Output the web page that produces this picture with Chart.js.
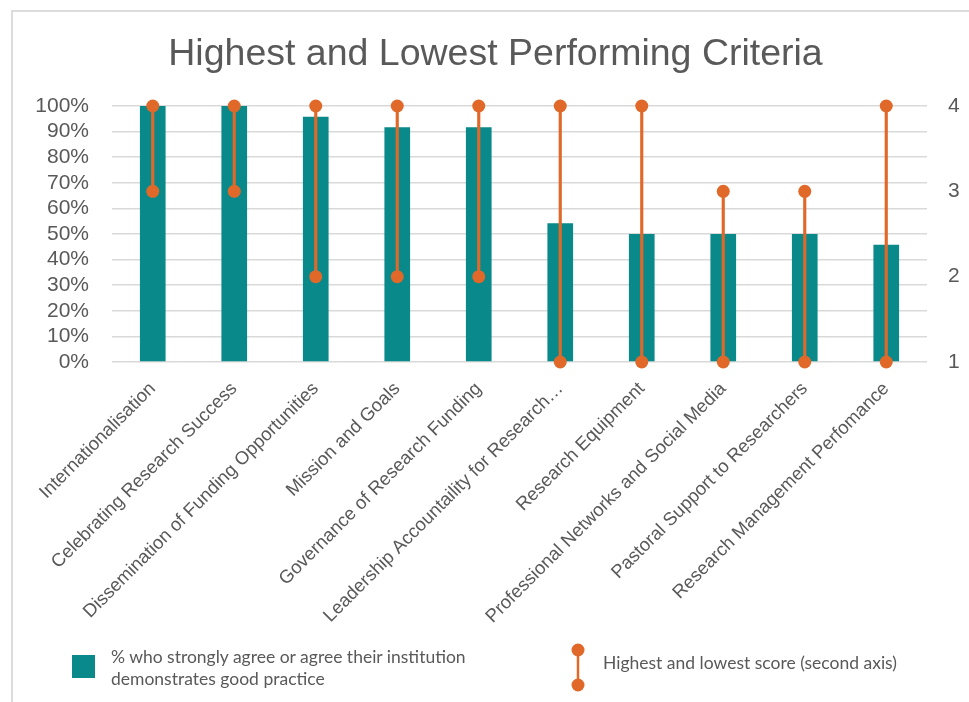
<!DOCTYPE html>
<html>
<head>
<meta charset="utf-8">
<title>Highest and Lowest Performing Criteria</title>
<script src="https://cdn.jsdelivr.net/npm/chart.js@4.4.1/dist/chart.umd.min.js"></script>
<style>
  body { margin: 0; background: #fff; }
  #wrap { position: relative; width: 969px; height: 702px; overflow: hidden; }
  #frame { position: absolute; left: 11px; top: 10px; width: 980px; height: 720px;
           border: 2px solid #dcdcdc; box-sizing: border-box; }
  #chart { position: absolute; left: 0; top: 0; }
  .legend-text { position: absolute; font-family: Lato, "Open Sans", sans-serif; font-size: 17.5px;
                 color: #595959; line-height: 22px; white-space: nowrap; }
  #swatch { position: absolute; left: 72px; top: 655px; width: 23px; height: 23px; background: #098989; }
  #rangeKey { position: absolute; left: 568px; top: 640px; }
</style>
</head>
<body>
<div id="wrap">
  <div id="frame"></div>
  <canvas id="chart" width="969" height="702"></canvas>
  <div id="swatch"></div>
  <div class="legend-text" style="left:111px; top:646px;">% who strongly agree or agree their institution<br>demonstrates good practice</div>
  <svg id="rangeKey" width="20" height="56">
    <line x1="10" y1="10" x2="10" y2="45" stroke="#e0692a" stroke-width="2.5"/>
    <circle cx="10" cy="10" r="6.5" fill="#e0692a"/>
    <circle cx="10" cy="45" r="6.5" fill="#e0692a"/>
  </svg>
  <div class="legend-text" style="left:603px; top:652px;">Highest and lowest score (second axis)</div>
</div>
<script>
const categories = [
  'Internationalisation',
  'Celebrating Research Success',
  'Dissemination of Funding Opportunities',
  'Mission and Goals',
  'Governance of Research Funding',
  'Leadership Accountaility for Research…',
  'Research Equipment',
  'Professional Networks and Social Media',
  'Pastoral Support to Researchers',
  'Research Management Perfomance'
];
// share (%) agreeing that their institution shows good practice
const agreePct = [100, 100, 95.8, 91.7, 91.7, 54.2, 50, 50, 50, 45.8];
// highest / lowest score on the 1-4 scale
const highScore = [4, 4, 4, 4, 4, 4, 4, 3, 3, 4];
const lowScore = [3, 3, 2, 2, 2, 1, 1, 1, 1, 1];
const pctTicks = [0, 10, 20, 30, 40, 50, 60, 70, 80, 90, 100];
const scoreTicks = [1, 2, 3, 4];

const TEAL = '#098989';
const ORANGE = '#e0692a';
const GREY = '#595959';
const FONT = '"Liberation Sans", Arial, sans-serif';

// centre the title over the framed area rather than the whole canvas
const titleOffset = {
  id: 'titleOffset',
  afterLayout(chart) {
    if (chart.titleBlock) chart.titleBlock.left = 22;
  },
};

const ctx = document.getElementById('chart').getContext('2d');
const chart = new Chart(ctx, {
  type: 'bar',
  data: {
    labels: categories,
    datasets: [
      {
        label: 'High',
        type: 'line',
        data: highScore,
        yAxisID: 'y1',
        showLine: false,
        pointRadius: 6.5,
        pointBackgroundColor: ORANGE,
        pointBorderWidth: 0,
        clip: false,
        order: 1,
      },
      {
        label: 'Low',
        type: 'line',
        data: lowScore,
        yAxisID: 'y1',
        showLine: false,
        pointRadius: 6.5,
        pointBackgroundColor: ORANGE,
        pointBorderWidth: 0,
        clip: false,
        order: 1,
      },
      {
        label: 'Range',
        data: categories.map((c, i) => [lowScore[i], highScore[i]]),
        yAxisID: 'y1',
        backgroundColor: ORANGE,
        barThickness: 2.5,
        grouped: false,
        order: 2,
      },
      {
        label: '% agree',
        data: agreePct,
        yAxisID: 'y',
        backgroundColor: TEAL,
        barPercentage: 0.315,
        categoryPercentage: 1,
        grouped: false,
        order: 3,
      },
    ],
  },
  options: {
    responsive: false,
    animation: false,
    layout: { padding: 0 },
    plugins: {
      legend: { display: false },
      tooltip: { enabled: false },
      title: {
        display: true,
        text: 'Highest and Lowest Performing Criteria',
        color: GREY,
        font: { family: FONT, size: 37.5, weight: 'normal' },
        padding: { top: 32, bottom: 29 },
      },
    },
    scales: {
      x: {
        grid: { display: false },
        border: { display: false },
        ticks: {
          autoSkip: false,
          minRotation: 45,
          maxRotation: 45,
          color: GREY,
          padding: 8,
          font: { family: FONT, size: 18.5 },
        },
        afterFit: (scale) => { scale.height = 340; },
      },
      y: {
        position: 'left',
        min: 0,
        max: 100,
        afterBuildTicks: (scale) => { scale.ticks = pctTicks.map(v => ({ value: v })); },
        grid: { color: '#d9d9d9', lineWidth: 1.5, drawTicks: false },
        border: { display: false },
        ticks: {
          autoSkip: false,
          color: GREY,
          padding: 23,
          font: { family: FONT, size: 21 },
          callback: (v) => v + '%',
        },
        afterFit: (scale) => { scale.width = 112; },
      },
      y1: {
        position: 'right',
        min: 1,
        max: 4,
        afterBuildTicks: (scale) => { scale.ticks = scoreTicks.map(v => ({ value: v })); },
        grid: { display: false, drawTicks: false },
        border: { display: false },
        ticks: {
          autoSkip: false,
          color: GREY,
          padding: 21,
          font: { family: FONT, size: 21 },
        },
        afterFit: (scale) => { scale.width = 42; },
      },
    },
  },
  plugins: [titleOffset],
});
</script>
</body>
</html>
